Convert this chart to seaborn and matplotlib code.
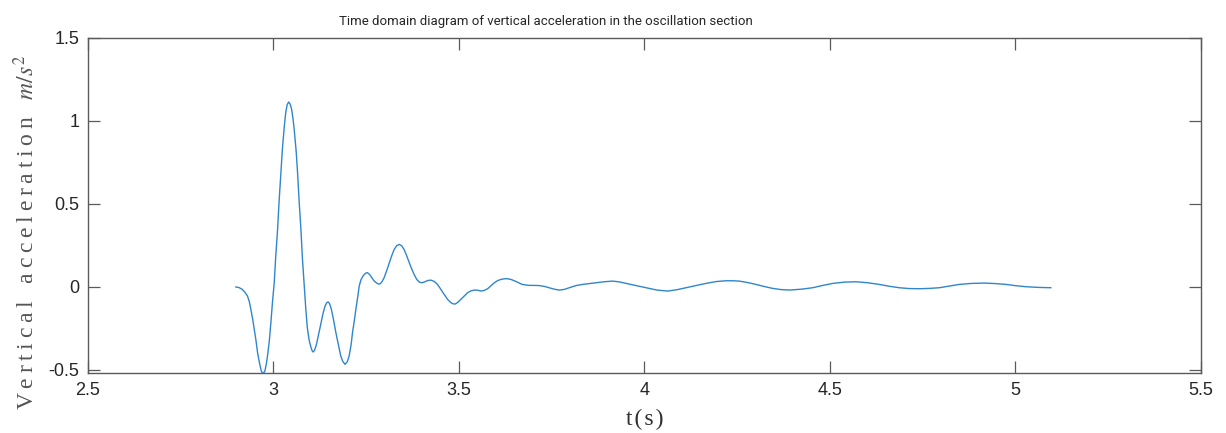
import numpy as np
import pandas as pd
import matplotlib
matplotlib.use("Agg")
import matplotlib.pyplot as plt
import seaborn as sns

# Sampled response: time (s) and vertical acceleration (m/s^2)
time_s = [
    2.899, 2.908, 2.917, 2.924, 2.931, 2.936, 2.940, 2.945, 2.949, 2.954,
    2.958, 2.963, 2.968, 2.973, 2.978, 2.982, 2.985, 2.990, 2.994, 2.998,
    3.003, 3.007, 3.012, 3.016, 3.021, 3.025, 3.030, 3.034, 3.038, 3.042,
    3.046, 3.050, 3.054, 3.057, 3.062, 3.066, 3.070, 3.075, 3.079, 3.084,
    3.088, 3.092, 3.097, 3.102, 3.105, 3.108, 3.112, 3.117, 3.123, 3.129,
    3.135, 3.140, 3.144, 3.148, 3.152, 3.157, 3.163, 3.169, 3.176, 3.182,
    3.188, 3.194, 3.200, 3.205, 3.210, 3.214, 3.219, 3.223, 3.228, 3.232,
    3.237, 3.243, 3.249, 3.254, 3.260, 3.266, 3.272, 3.278, 3.283, 3.288,
    3.293, 3.299, 3.306, 3.313, 3.320, 3.326, 3.333, 3.340, 3.347, 3.353,
    3.360, 3.367, 3.374, 3.380, 3.387, 3.394, 3.400, 3.407, 3.416, 3.425,
    3.434, 3.443, 3.452, 3.461, 3.470, 3.479, 3.485, 3.491, 3.498, 3.506,
    3.515, 3.524, 3.533, 3.542, 3.551, 3.560, 3.569, 3.578, 3.587, 3.596,
    3.605, 3.614, 3.623, 3.632, 3.642, 3.652, 3.671, 3.690, 3.704, 3.717,
    3.731, 3.744, 3.758, 3.771, 3.785, 3.798, 3.816, 3.834, 3.852, 3.870,
    3.892, 3.915, 3.933, 3.951, 3.978, 4.005, 4.034, 4.063, 4.088, 4.112,
    4.139, 4.166, 4.193, 4.220, 4.238, 4.256, 4.279, 4.301, 4.324, 4.346,
    4.368, 4.391, 4.422, 4.454, 4.481, 4.508, 4.540, 4.571, 4.602, 4.633,
    4.660, 4.687, 4.714, 4.741, 4.768, 4.795, 4.822, 4.849, 4.882, 4.916,
    4.946, 4.975, 5.002, 5.029, 5.062, 5.096,
]
accel = [
    0.000, -0.004, -0.015, -0.032, -0.055, -0.090, -0.135, -0.195, -0.254, -0.325,
    -0.394, -0.455, -0.505, -0.524, -0.505, -0.460, -0.414, -0.320, -0.214, -0.100,
    0.025, 0.180, 0.344, 0.510, 0.684, 0.830, 0.963, 1.050, 1.098, 1.113,
    1.100, 1.068, 1.005, 0.943, 0.820, 0.684, 0.520, 0.344, 0.170, 0.000,
    -0.130, -0.243, -0.320, -0.364, -0.384, -0.392, -0.380, -0.344, -0.280, -0.214,
    -0.155, -0.115, -0.097, -0.090, -0.100, -0.135, -0.200, -0.274, -0.350, -0.414,
    -0.450, -0.466, -0.450, -0.414, -0.350, -0.274, -0.200, -0.135, -0.060, 0.005,
    0.045, 0.068, 0.082, 0.086, 0.075, 0.055, 0.036, 0.025, 0.018, 0.018,
    0.030, 0.055, 0.097, 0.145, 0.190, 0.225, 0.248, 0.256, 0.246, 0.225,
    0.187, 0.145, 0.105, 0.075, 0.045, 0.029, 0.025, 0.029, 0.038, 0.041,
    0.033, 0.015, -0.015, -0.045, -0.075, -0.095, -0.102, -0.103, -0.092, -0.075,
    -0.055, -0.035, -0.024, -0.019, -0.020, -0.025, -0.021, -0.011, 0.007, 0.025,
    0.038, 0.045, 0.049, 0.049, 0.044, 0.035, 0.015, 0.009, 0.009, 0.008,
    0.003, -0.005, -0.014, -0.019, -0.015, -0.005, 0.008, 0.015, 0.020, 0.025,
    0.031, 0.035, 0.030, 0.021, 0.008, -0.005, -0.019, -0.025, -0.017, -0.005,
    0.008, 0.021, 0.032, 0.037, 0.037, 0.035, 0.026, 0.015, 0.002, -0.009,
    -0.016, -0.019, -0.014, -0.005, 0.009, 0.021, 0.029, 0.031, 0.025, 0.015,
    0.004, -0.005, -0.010, -0.011, -0.009, -0.005, 0.005, 0.015, 0.021, 0.023,
    0.020, 0.015, 0.007, 0.001, -0.003, -0.005,
]

x_ticks = [2.5, 3, 3.5, 4, 4.5, 5, 5.5]
x_tick_labels = ["2.5", "3", "3.5", "4", "4.5", "5", "5.5"]
y_ticks = [-0.5, 0, 0.5, 1, 1.5]
y_tick_labels = ["-0.5", "0", "0.5", "1", "1.5"]

title_text = "Time domain diagram of vertical acceleration in the oscillation section"


def tracked(word, gap="\u2009"):
    """Spread the letters of a word apart with thin spaces."""
    return gap.join(word)


x_label = tracked("t(s)", "\u200a")
y_label = tracked("Vertical") + "   " + tracked("acceleration") + "   $m/s^2$"

sns.set_theme(style="white")
plt.rcParams["font.family"] = ["Liberation Sans", "DejaVu Sans"]
plt.rcParams["mathtext.fontset"] = "stix"

df = pd.DataFrame({"t": time_s, "a": accel})

fig = plt.figure(figsize=(12.26, 4.33), dpi=100)
ax = fig.add_axes([0.0714, 0.1379, 0.9082, 0.7750])

sns.lineplot(data=df, x="t", y="a", ax=ax, color="#2f86cc", linewidth=1.0,
             sort=False, estimator=None)

ax.set_xlim(2.5, 5.5)
ax.set_ylim(-0.52, 1.5)
ax.set_xticks(x_ticks)
ax.set_xticklabels(x_tick_labels)
ax.set_yticks(y_ticks)
ax.set_yticklabels(y_tick_labels)

axis_color = "#5a5a5a"
for s in ax.spines.values():
    s.set_visible(True)
    s.set_color(axis_color)
    s.set_linewidth(1.0)
ax.tick_params(axis="both", which="both", direction="in", length=8.5, width=0.9,
               color=axis_color, labelsize=13, labelcolor="#262626",
               top=True, right=True, bottom=True, left=True, pad=6)

ax.set_xlabel(x_label, family=["Liberation Serif", "DejaVu Serif"], fontsize=17,
              color="#303030")
ax.xaxis.set_label_coords(0.5, -0.107)
ax.set_ylabel(y_label, family=["Liberation Serif", "DejaVu Serif"], fontsize=17,
              color="#555555")
ax.yaxis.set_label_coords(-0.043, 0.42)
ax.set_title(title_text, family=["Roboto", "DejaVu Sans"], fontsize=9.5,
             color="#262626", x=0.412, pad=9)

fig.savefig("out.png", dpi=100)
